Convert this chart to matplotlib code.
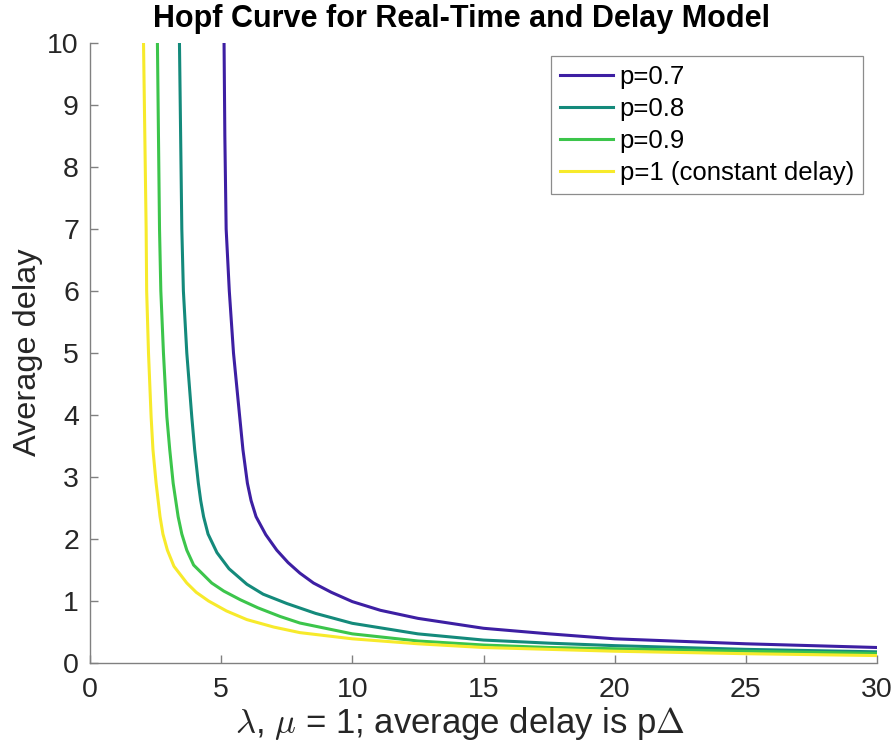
import matplotlib.pyplot as plt

plt.rcParams['font.family'] = ['Liberation Sans', 'DejaVu Sans']
plt.rcParams['mathtext.fontset'] = 'cm'

# Hopf curves: lambda on x, average delay on y
x_p07 = [5.11, 5.14, 5.19, 5.31, 5.47, 5.70, 5.83, 6.00, 6.14, 6.33, 6.70, 7.12, 7.55, 8.0, 8.52, 9.2, 10, 11.07, 12.5, 15, 17.5, 20, 25, 30]
y_p07 = [10, 8.5, 7.0, 6.0, 5.0, 4.0, 3.44, 2.90, 2.62, 2.36, 2.07, 1.82, 1.62, 1.45, 1.29, 1.14, 0.99, 0.85, 0.72, 0.56, 0.47, 0.39, 0.31, 0.25]

x_p08 = [3.41, 3.50, 3.56, 3.69, 3.88, 3.99, 4.13, 4.22, 4.33, 4.50, 4.84, 5.3, 5.98, 6.6, 7.5, 8.6, 10, 12.5, 15, 17.5, 20, 25, 30]
y_p08 = [10, 7.0, 6.0, 5.0, 3.97, 3.44, 2.90, 2.62, 2.36, 2.08, 1.78, 1.52, 1.27, 1.11, 0.96, 0.80, 0.64, 0.47, 0.37, 0.32, 0.28, 0.22, 0.18]

x_p09 = [2.57, 2.65, 2.70, 2.80, 2.93, 3.04, 3.17, 3.36, 3.50, 3.69, 3.95, 4.64, 5.1, 5.73, 6.4, 7.25, 8, 10, 12.5, 15, 17.5, 20, 25, 30]
y_p09 = [10, 7.0, 6.0, 5.0, 3.97, 3.44, 2.90, 2.36, 2.08, 1.82, 1.58, 1.29, 1.16, 1.02, 0.89, 0.75, 0.645, 0.47, 0.355, 0.29, 0.25, 0.23, 0.19, 0.155]

x_p10 = [2.04, 2.14, 2.16, 2.23, 2.33, 2.40, 2.52, 2.67, 2.78, 2.95, 3.2, 3.69, 4.05, 4.52, 5.2, 5.98, 7.0, 8, 10, 12.5, 15, 17.5, 20, 25, 30]
y_p10 = [10, 7.0, 6.0, 5.0, 3.97, 3.44, 2.90, 2.36, 2.08, 1.82, 1.56, 1.29, 1.14, 1.0, 0.84, 0.70, 0.58, 0.49, 0.39, 0.31, 0.25, 0.22, 0.19, 0.15, 0.12]

labels = ['p=0.7', 'p=0.8', 'p=0.9', 'p=1 (constant delay)']
colors = ['#3D1FA3', '#148A7B', '#3CC54B', '#F7EA2B']

fig = plt.figure(figsize=(8.96, 7.49), dpi=100)
ax = fig.add_axes([90/896, 1-663/749, 787/896, 620/749])

for xs, ys, lab, c in zip([x_p07, x_p08, x_p09, x_p10], [y_p07, y_p08, y_p09, y_p10], labels, colors):
    ax.plot(xs, ys, color=c, linewidth=2.2, label=lab, solid_joinstyle='round')

ax.set_xlim(0, 30)
ax.set_ylim(0, 10)
ax.set_xticks(range(0, 31, 5))
ax.set_yticks(range(0, 11))

for side in ['top', 'right']:
    ax.spines[side].set_visible(False)
for side in ['left', 'bottom']:
    ax.spines[side].set_color('#808080')
    ax.spines[side].set_linewidth(1.0)

ax.tick_params(direction='in', length=6, width=1.0, color='#808080',
               labelsize=20.5, labelcolor='#262626')
ax.tick_params(axis='x', pad=10)
ax.tick_params(axis='y', pad=8)

fig.text(461/896, 1-27/749, 'Hopf Curve for Real-Time and Delay Model',
         ha='center', va='baseline', fontsize=22, fontweight='bold')
fig.text(460/896, 1-733/749, r'$\lambda$, $\mu$ = 1; average delay is p$\Delta$',
         ha='center', va='baseline', fontsize=25, color='#262626')
fig.text(28/896, 1-352/749, 'Average delay', rotation=90,
         ha='center', va='center', fontsize=23.4, color='#262626')

leg = ax.legend(loc='upper right', bbox_to_anchor=(863/896, 1-56/749),
                bbox_transform=fig.transFigure, borderaxespad=0,
                fontsize=18.5, fancybox=False, framealpha=1,
                edgecolor='#8c8c8c', handlelength=2.07, handletextpad=0.26,
                borderpad=0.35, labelspacing=0.31)
leg.get_frame().set_linewidth(0.9)

fig.savefig('out.png', dpi=100)
